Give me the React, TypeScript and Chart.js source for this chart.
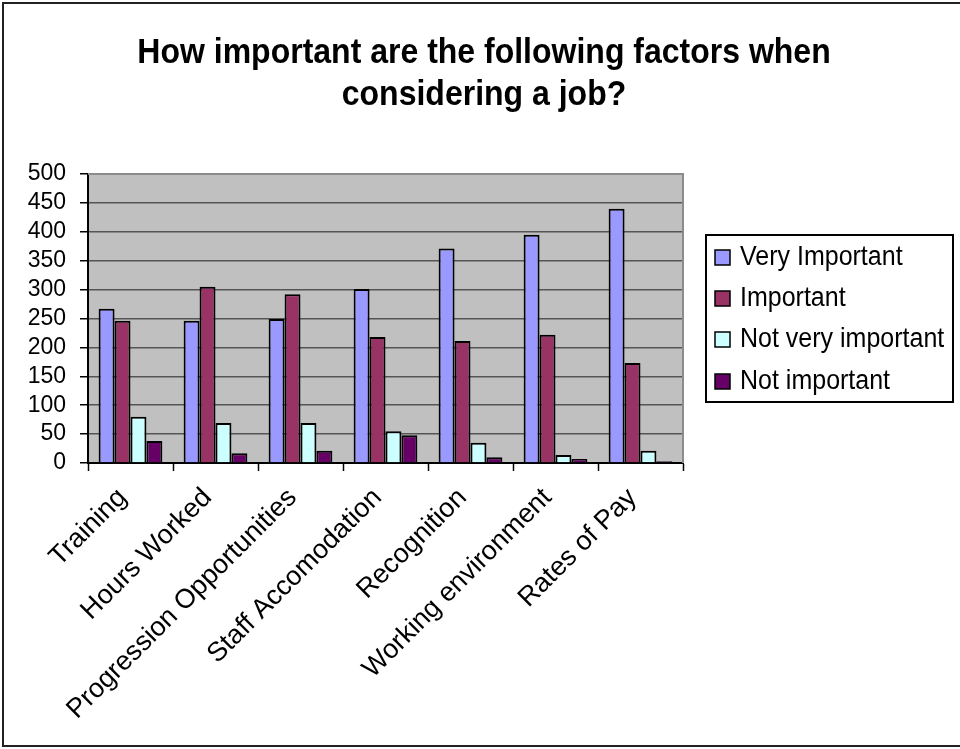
import { useEffect, useRef } from "react";
import { Chart, registerables } from "chart.js";

Chart.register(...registerables);

const categories = [
  "Training",
  "Hours Worked",
  "Progression Opportunities",
  "Staff Accomodation",
  "Recognition",
  "Working environment",
  "Rates of Pay",
];

const veryImportant = [267, 246, 249, 301, 371, 395, 440];
const important = [246, 305, 292, 218, 211, 222, 173];
const notVeryImportant = [80, 69, 69, 55, 35, 14, 21];
const notImportant = [38, 17, 21, 48, 10, 7, 3];

const seriesNames = ["Very Important", "Important", "Not very important", "Not important"];
const seriesColors = ["#9999FF", "#993366", "#CCFFFF", "#660066"];

const titleLines = ["How important are the following factors when", "considering a job?"];

const yMin = 0;
const yMax = 500;
const yStep = 50;

const FONT = '"Liberation Sans", Arial, Helvetica, sans-serif';

// Draws text slightly stretched vertically around its baseline.
function tallText(ctx: CanvasRenderingContext2D, text: string, x: number, y: number, sy: number) {
  ctx.save();
  ctx.translate(x, y);
  ctx.scale(1, sy);
  ctx.fillText(text, 0, 0);
  ctx.restore();
}

// Paints the page frame, plot background and title before anything else.
const framePlugin = {
  id: "frame",
  beforeDraw(chart: any) {
    const { ctx, chartArea, width, height } = chart;
    ctx.save();
    ctx.fillStyle = "#ffffff";
    ctx.fillRect(0, 0, width, height);

    ctx.strokeStyle = "#222222";
    ctx.lineWidth = 2;
    ctx.strokeRect(3, 3, width + 10, 743);

    ctx.fillStyle = "#C0C0C0";
    ctx.fillRect(chartArea.left, chartArea.top, chartArea.right - chartArea.left, chartArea.bottom - chartArea.top);

    ctx.fillStyle = "#000000";
    ctx.font = `bold 32px ${FONT}`;
    ctx.textAlign = "center";
    ctx.textBaseline = "alphabetic";
    tallText(ctx, titleLines[0], 484, 63, 1.1);
    tallText(ctx, titleLines[1], 484, 105, 1.1);
    ctx.restore();
  },
  beforeDatasetsDraw(chart: any) {
    const { ctx, chartArea } = chart;
    ctx.save();
    ctx.strokeStyle = "#8c8c8c";
    ctx.lineWidth = 2;
    ctx.beginPath();
    ctx.moveTo(chartArea.left, chartArea.top);
    ctx.lineTo(chartArea.right, chartArea.top);
    ctx.lineTo(chartArea.right, chartArea.bottom);
    ctx.stroke();
    ctx.restore();
  },
};

// Boxed legend to the right of the plot.
const legendBoxPlugin = {
  id: "legendBox",
  afterDraw(chart: any) {
    const { ctx } = chart;
    ctx.save();
    ctx.strokeStyle = "#000000";
    ctx.lineWidth = 2;
    ctx.strokeRect(706, 235, 247, 167);

    const baselines = [265, 306, 347, 389];
    ctx.font = `25px ${FONT}`;
    ctx.textAlign = "left";
    ctx.textBaseline = "alphabetic";
    chart.data.datasets.forEach((ds: any, i: number) => {
      const b = baselines[i];
      ctx.fillStyle = ds.backgroundColor;
      ctx.fillRect(715, b - 15, 15, 15);
      ctx.lineWidth = 1.5;
      ctx.strokeStyle = "#000000";
      ctx.strokeRect(715, b - 15, 15, 15);
      ctx.fillStyle = "#000000";
      tallText(ctx, ds.label, 740, b, 1.1);
    });
    ctx.restore();
  },
};

export default function App() {
  const canvasRef = useRef<HTMLCanvasElement | null>(null);

  useEffect(() => {
    if (!canvasRef.current) return;
    const seriesValues = [veryImportant, important, notVeryImportant, notImportant];
    const chart = new Chart(canvasRef.current, {
      type: "bar",
      data: {
        labels: categories,
        datasets: seriesValues.map((values, i) => ({
          label: seriesNames[i],
          data: values,
          backgroundColor: seriesColors[i],
          borderColor: "#000000",
          borderWidth: 2,
          categoryPercentage: 0.75,
          barPercentage: 1.0,
        })),
      },
      options: {
        responsive: false,
        animation: false,
        devicePixelRatio: 1,
        layout: { padding: { top: 174, right: 277, left: 0, bottom: 0 } },
        plugins: {
          legend: { display: false },
          title: { display: false },
          tooltip: { enabled: false },
        },
        scales: {
          x: {
            afterFit: (scale: any) => {
              scale.height = 286;
            },
            grid: {
              offset: true,
              drawOnChartArea: false,
              drawTicks: true,
              tickLength: 8,
              tickColor: "#000000",
              tickWidth: 1.5,
            },
            border: { display: true, color: "#000000", width: 2 },
            ticks: {
              autoSkip: false,
              minRotation: 45,
              maxRotation: 45,
              padding: 11,
              labelOffset: -8,
              color: "#000000",
              font: { family: FONT, size: 27 },
            },
          },
          y: {
            min: yMin,
            max: yMax,
            afterFit: (scale: any) => {
              scale.width = 88;
            },
            grid: {
              color: "#555555",
              lineWidth: 1.5,
              drawTicks: true,
              tickLength: 8,
              tickColor: "#000000",
              tickWidth: 1.5,
            },
            border: { display: true, color: "#000000", width: 2 },
            ticks: {
              stepSize: yStep,
              autoSkip: false,
              padding: 14,
              color: "#000000",
              font: { family: FONT, size: 23 },
            },
          },
        },
      },
      plugins: [framePlugin, legendBoxPlugin],
    });
    return () => chart.destroy();
  }, []);

  return (
    <div style={{ position: "absolute", left: 0, top: 0, width: 960, height: 749 }}>
      <canvas ref={canvasRef} width={960} height={749} style={{ display: "block" }} />
    </div>
  );
}
